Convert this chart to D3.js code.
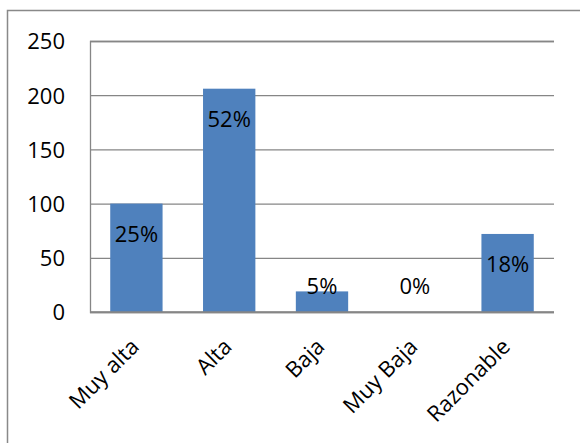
<!DOCTYPE html>
<html><head><meta charset="utf-8">
<script src="https://cdn.jsdelivr.net/npm/d3@7"></script>
<style>body{margin:0;background:#fff}svg{display:block}</style>
</head><body>
<svg id="c" width="580" height="443"></svg>
<script>
const categories = ["Muy alta", "Alta", "Baja", "Muy Baja", "Razonable"];
const values = [100, 206, 19, 0, 72];
const pctLabels = ["25%", "52%", "5%", "0%", "18%"];
const yTicks = [0, 50, 100, 150, 200, 250];

const svg = d3.select("#c");
const m = {left: 90, right: 554, top: 41, bottom: 312};
const font = "'Open Sans', sans-serif";
const fs = 22;

svg.append("rect").attr("x", 7.5).attr("y", 10.5).attr("width", 620).attr("height", 500)
  .attr("fill", "#fff").attr("stroke", "#898989").attr("stroke-width", 1.5);

const x = d3.scaleBand().domain(categories).range([m.left, m.right]).paddingInner(0.436).paddingOuter(0.218);
const y = d3.scaleLinear().domain([0, 250]).range([m.bottom, m.top]);

// gridlines
const yAxis = d3.axisLeft(y).tickValues(yTicks).tickSize(-(m.right - m.left)).tickPadding(25).tickFormat(d3.format("d"));
const gy = svg.append("g").attr("transform", `translate(${m.left},0)`).call(yAxis);
gy.select(".domain").attr("stroke", "#868686").attr("stroke-width", 1.3);
gy.selectAll(".tick line").attr("stroke", "#868686").attr("stroke-width", 1.3);
gy.selectAll(".tick text").attr("font-family", font).attr("font-size", fs).attr("fill", "#000").attr("dy", "0.36em");

// bars
svg.append("g").selectAll("rect").data(values).join("rect")
  .attr("x", (d, i) => x(categories[i]))
  .attr("width", x.bandwidth())
  .attr("y", d => y(d))
  .attr("height", d => y(0) - y(d))
  .attr("fill", "#4F81BD");

// baseline over bars
svg.append("line").attr("x1", m.left).attr("x2", m.right).attr("y1", y(0)).attr("y2", y(0))
  .attr("stroke", "#868686").attr("stroke-width", 1.3);

// value labels
svg.append("g").selectAll("text").data(values).join("text")
  .attr("x", (d, i) => x(categories[i]) + x.bandwidth() / 2)
  .attr("y", d => Math.min(y(d) + 30, y(0) - 26))
  .attr("dy", "0.36em")
  .attr("text-anchor", "middle")
  .attr("font-family", font).attr("font-size", fs).attr("fill", "#000")
  .text((d, i) => pctLabels[i]);

// x labels
const gx = svg.append("g").attr("transform", `translate(0,${m.bottom})`)
  .call(d3.axisBottom(x).tickSize(0).tickPadding(0));
gx.select(".domain").remove();
gx.selectAll(".tick text")
  .attr("font-family", font).attr("font-size", fs).attr("fill", "#000")
  .attr("text-anchor", "end")
  .attr("x", 0).attr("y", 0).attr("dy", 0)
  .attr("transform", "translate(4,36) rotate(-45)");
</script>
</body></html>
